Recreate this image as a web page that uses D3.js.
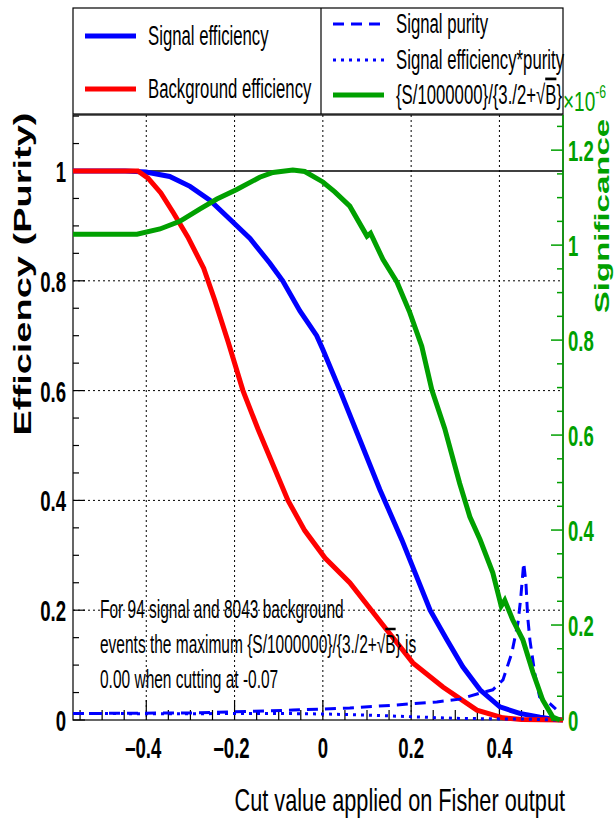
<!DOCTYPE html>
<html>
<head>
<meta charset="utf-8">
<script src="https://d3js.org/d3.v7.min.js"></script>
<style>
  body { margin: 0; background: #fff; }
  svg { display: block; }
</style>
</head>
<body>
<div id="chart"></div>
<script>
'use strict';

// cut values and curves
var sigEffCut = [-0.566, -0.448, -0.401, -0.347, -0.301, -0.256, -0.204, -0.165, -0.120, -0.091, -0.052, -0.014, 0.0, 0.039, 0.084, 0.129, 0.179, 0.243, 0.281, 0.317, 0.356, 0.401, 0.446, 0.492, 0.526, 0.544];
var sigEff    = [1.0, 1.0, 0.998, 0.99, 0.972, 0.947, 0.907, 0.877, 0.832, 0.80, 0.745, 0.70, 0.675, 0.60, 0.51, 0.42, 0.328, 0.20, 0.146, 0.097, 0.055, 0.024, 0.012, 0.005, 0.001, 0.0];

var bkgEffCut = [-0.566, -0.419, -0.396, -0.367, -0.338, -0.306, -0.270, -0.245, -0.215, -0.181, -0.147, -0.113, -0.079, -0.041, 0.005, 0.061, 0.145, 0.204, 0.272, 0.349, 0.408, 0.450, 0.544];
var bkgEff    = [1.0, 1.0, 0.987, 0.96, 0.923, 0.88, 0.823, 0.765, 0.69, 0.60, 0.53, 0.465, 0.40, 0.345, 0.295, 0.25, 0.164, 0.104, 0.06, 0.018, 0.004, 0.001, 0.0];

var purityCut = [-0.566, -0.279, -0.068, 0.061, 0.159, 0.258, 0.310, 0.356, 0.385, 0.408, 0.428, 0.442, 0.448, 0.455, 0.460, 0.464, 0.469, 0.480, 0.491, 0.514, 0.528];
var purity    = [0.0117, 0.013, 0.018, 0.022, 0.027, 0.033, 0.038, 0.049, 0.055, 0.073, 0.122, 0.177, 0.22, 0.286, 0.25, 0.188, 0.146, 0.085, 0.042, 0.03, 0.02];

var effPurCut = [-0.566, -0.3, -0.1, 0.0, 0.1, 0.2, 0.3, 0.4, 0.45, 0.5, 0.53];
var effPur    = [0.0117, 0.0115, 0.012, 0.011, 0.009, 0.006, 0.003, 0.002, 0.002, 0.0005, 0.0];

// significance in units of 1e-6
var signifCut = [-0.566, -0.421, -0.369, -0.324, -0.279, -0.240, -0.195, -0.143, -0.113, -0.068, -0.041, 0.0, 0.027, 0.061, 0.100, 0.108, 0.136, 0.168, 0.197, 0.224, 0.247, 0.276, 0.310, 0.333, 0.356, 0.385, 0.404, 0.412, 0.430, 0.453, 0.476, 0.498, 0.521, 0.537];
var signif    = [1.023, 1.023, 1.034, 1.050, 1.076, 1.097, 1.117, 1.143, 1.153, 1.158, 1.155, 1.133, 1.112, 1.082, 1.019, 1.025, 0.970, 0.922, 0.858, 0.787, 0.695, 0.614, 0.498, 0.428, 0.380, 0.310, 0.240, 0.252, 0.211, 0.169, 0.100, 0.042, 0.006, 0.0];

var xTicks = [-0.4, -0.2, 0, 0.2, 0.4];
var xTickLabels = ['\u20130.4', '\u20130.2', '0', '0.2', '0.4'];
var yTicks = [0, 0.2, 0.4, 0.6, 0.8, 1];
var sigTicks = [0, 0.2, 0.4, 0.6, 0.8, 1, 1.2];

var W = 614, H = 818;
var fLeft = 73, fRight = 563, fTop = 115, fBottom = 720;
var font = '"Liberation Sans", Arial, sans-serif';
var green = '#00a000';
var squeeze = 0.62;   // the picture is narrow, text is squeezed sideways

var svg = d3.select('#chart').append('svg')
        .attr('width', W)
        .attr('height', H)
        .attr('font-family', font);

var x = d3.scaleLinear().domain([-0.566, 0.544]).range([fLeft, fRight]);
var y = d3.scaleLinear().domain([0, 1.102]).range([fBottom, fTop]);
var ySig = d3.scaleLinear().domain([0, 1.274]).range([fBottom, fTop]);

function isMajor(d) {
    return Math.abs(Math.round(d * 5) - d * 5) < 1e-6;
}

// text squeezed horizontally around its anchor point
function sText(parent, px, py, sx) {
    return parent.append('text')
        .attr('transform', 'translate(' + px + ',' + py + ') scale(' + (sx || squeeze) + ',1)');
}

// grid
svg.append('g').selectAll('line')
        .data(xTicks)
        .enter().append('line')
        .attr('x1', function(d) { return x(d); })
        .attr('x2', function(d) { return x(d); })
        .attr('y1', fTop)
        .attr('y2', fBottom)
        .attr('stroke', '#000')
        .attr('stroke-width', 1)
        .attr('stroke-dasharray', '2,3');
svg.append('g').selectAll('line')
        .data(yTicks.slice(1, 5))
        .enter().append('line')
        .attr('x1', fLeft)
        .attr('x2', fRight)
        .attr('y1', function(d) { return y(d); })
        .attr('y2', function(d) { return y(d); })
        .attr('stroke', '#000')
        .attr('stroke-width', 1)
        .attr('stroke-dasharray', '2,3');

// frame
svg.append('rect')
        .attr('x', fLeft).attr('y', fTop)
        .attr('width', fRight - fLeft).attr('height', fBottom - fTop)
        .attr('fill', 'none')
        .attr('stroke', '#000')
        .attr('stroke-width', 1.2);

// bottom axis ticks
var xMinor = d3.range(-0.55, 0.5001, 0.05);
svg.append('g').selectAll('line')
        .data(xMinor)
        .enter().append('line')
        .attr('x1', function(d) { return x(d); })
        .attr('x2', function(d) { return x(d); })
        .attr('y1', fBottom)
        .attr('y2', function(d) { return fBottom - (isMajor(d) ? 20 : 10); })
        .attr('stroke', '#000')
        .attr('stroke-width', 1.2);

var xLab = svg.append('g').attr('font-size', 30).attr('font-weight', 'bold');
xTicks.forEach(function(d, i) {
    sText(xLab, x(d) - (i < 2 ? 3 : 0), 758)
        .attr('text-anchor', 'middle')
        .text(xTickLabels[i]);
});

// left axis ticks
var yMinor = d3.range(0, 1.1001, 0.05);
svg.append('g').selectAll('line')
        .data(yMinor)
        .enter().append('line')
        .attr('x1', fLeft)
        .attr('x2', function(d) { return fLeft + (isMajor(d) ? 12 : 6); })
        .attr('y1', function(d) { return y(d); })
        .attr('y2', function(d) { return y(d); })
        .attr('stroke', '#000')
        .attr('stroke-width', 1.2);

var yLab = svg.append('g').attr('font-size', 30).attr('font-weight', 'bold');
yTicks.forEach(function(d) {
    sText(yLab, 66, y(d) + 11)
        .attr('text-anchor', 'end')
        .text(d3.format('')(d));
});

// line at efficiency 1
svg.append('line')
        .attr('x1', fLeft).attr('x2', fRight)
        .attr('y1', y(1)).attr('y2', y(1))
        .attr('stroke', '#000')
        .attr('stroke-width', 1.6);

// curves
function curve(xs, ys, sy) {
    return d3.line()
        .x(function(d, i) { return x(xs[i]); })
        .y(function(d) { return sy(d); })(ys);
}

var plot = svg.append('g').attr('fill', 'none');
plot.append('path')
        .attr('d', curve(sigEffCut, sigEff, y))
        .attr('stroke', '#0000ff')
        .attr('stroke-width', 5);
plot.append('path')
        .attr('d', curve(bkgEffCut, bkgEff, y))
        .attr('stroke', '#ff0000')
        .attr('stroke-width', 5);
plot.append('path')
        .attr('d', curve(purityCut, purity, y))
        .attr('stroke', '#0000ff')
        .attr('stroke-width', 3).attr('stroke-dasharray', '11,7');
plot.append('path')
        .attr('d', curve(effPurCut, effPur, y))
        .attr('stroke', '#0000ff')
        .attr('stroke-width', 3).attr('stroke-dasharray', '3,5');
plot.append('path')
        .attr('d', curve(signifCut, signif, ySig))
        .attr('stroke', green)
        .attr('stroke-width', 5);

// right axis (significance)
svg.append('line')
        .attr('x1', fRight).attr('x2', fRight)
        .attr('y1', fTop).attr('y2', fBottom)
        .attr('stroke', green)
        .attr('stroke-width', 1.5);

var sMinor = d3.range(0, 1.2501, 0.05);
svg.append('g').selectAll('line')
        .data(sMinor)
        .enter().append('line')
        .attr('x1', fRight)
        .attr('x2', function(d) { return fRight - (isMajor(d) ? 12 : 6); })
        .attr('y1', function(d) { return ySig(d); })
        .attr('y2', function(d) { return ySig(d); })
        .attr('stroke', green)
        .attr('stroke-width', 1.5);

var sLab = svg.append('g').attr('font-size', 30).attr('font-weight', 'bold').attr('fill', green);
sigTicks.forEach(function(d) {
    sText(sLab, 568, ySig(d) + 11).text(d3.format('')(d));
});

var expo = sText(svg, 563, 111, 0.68)
        .attr('font-size', 28)
        .attr('fill', green);
expo.append('tspan').text('\u00d710');
expo.append('tspan').attr('dy', -13).attr('font-size', 18).text('-6');

// axis titles
svg.append('text')
        .attr('transform', 'translate(31,274) rotate(-90) scale(1,' + squeeze + ')')
        .attr('text-anchor', 'middle')
        .attr('font-weight', 'bold')
        .attr('font-size', 38)
        .text('Efficiency (Purity)');

svg.append('text')
        .attr('transform', 'translate(609,216) rotate(-90) scale(1,' + squeeze + ')')
        .attr('text-anchor', 'middle')
        .attr('font-weight', 'bold')
        .attr('font-size', 33)
        .attr('fill', green)
        .text('Significance');

sText(svg, 565, 811, 0.7)
        .attr('text-anchor', 'end')
        .attr('font-size', 31)
        .text('Cut value applied on Fisher output');

// annotation
var note = svg.append('g').attr('font-size', 25);
sText(note, 100, 618).text('For 94 signal and 8043 background');
var l2 = sText(note, 100, 653);
l2.append('tspan').text('events the maximum {S/1000000}/{3./2+\u221a');
l2.append('tspan').style('text-decoration', 'overline').text('B');
l2.append('tspan').text('} is');
sText(note, 100, 688).text('0.00 when cutting at -0.07');

// legend
var legend = svg.append('g');
legend.append('rect')
        .attr('x', fLeft).attr('y', 8)
        .attr('width', fRight - fLeft).attr('height', 106)
        .attr('fill', '#fff')
        .attr('stroke', '#000')
        .attr('stroke-width', 1.2);
legend.append('line')
        .attr('x1', 321).attr('x2', 321)
        .attr('y1', 8).attr('y2', 114)
        .attr('stroke', '#000')
        .attr('stroke-width', 1.2);

var entries = [
    { x: 85, y: 36, color: '#0000ff', width: 5, dash: null, label: 'Signal efficiency' },
    { x: 85, y: 89, color: '#ff0000', width: 5, dash: null, label: 'Background efficiency' },
    { x: 333, y: 24, color: '#0000ff', width: 3, dash: '11,7', label: 'Signal purity' },
    { x: 333, y: 60, color: '#0000ff', width: 3, dash: '3,5', label: 'Signal efficiency*purity' },
    { x: 333, y: 95, color: green, width: 5, dash: null, label: null }
];

legend.selectAll('line.key')
        .data(entries)
        .enter().append('line')
        .attr('class', 'key')
        .attr('x1', function(d) { return d.x; })
        .attr('x2', function(d) { return d.x + 51; })
        .attr('y1', function(d) { return d.y; })
        .attr('y2', function(d) { return d.y; })
        .attr('stroke', function(d) { return d.color; })
        .attr('stroke-width', function(d) { return d.width; })
        .attr('stroke-dasharray', function(d) { return d.dash; });

var legText = legend.append('g').attr('font-size', 27);
entries.forEach(function(d) {
    if (d.label) sText(legText, d.x + 63, d.y + 9).text(d.label);
});

var formula = sText(legText, 396, 104);
formula.append('tspan').text('{S/1000000}/{3./2+\u221a');
formula.append('tspan').style('text-decoration', 'overline').text('B');
formula.append('tspan').text('}');
</script>
</body>
</html>
